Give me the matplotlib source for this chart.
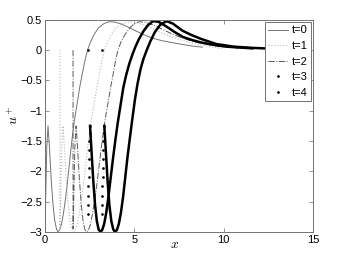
import matplotlib
matplotlib.use('Agg')
import matplotlib.pyplot as plt

plt.rcParams['font.family'] = ['Liberation Sans', 'DejaVu Sans']
plt.rcParams['mathtext.fontset'] = 'cm'

# t = 0
x0 = [0.0, 0.0, 0.05, 0.1, 0.17, 0.25, 0.35, 0.45, 0.55, 0.65, 0.73, 0.82, 0.92, 1.03, 1.15, 1.28,
      1.4, 1.52, 1.65, 1.8, 1.95, 2.1, 2.25, 2.4, 2.55, 2.75, 3.0, 3.3, 3.6, 3.9, 4.2, 4.6, 5.0, 5.5,
      6.0, 6.5, 7.0, 7.6, 8.2, 8.8]
u0 = [0.0, -2.95, -2.3, -1.6, -1.25, -1.6, -2.15, -2.55, -2.82, -2.96, -3.0, -2.97, -2.88, -2.7,
      -2.45, -2.12, -1.78, -1.45, -1.15, -0.88, -0.6, -0.37, -0.15, 0.02, 0.14, 0.26, 0.37, 0.44, 0.47,
      0.465, 0.44, 0.39, 0.33, 0.26, 0.2, 0.16, 0.13, 0.1, 0.07, 0.05]

# t = 1
x1 = [0.84, 0.84, 0.89, 0.94, 1.01, 1.09, 1.19, 1.3, 1.4, 1.5, 1.6, 1.7, 1.8, 1.92, 2.05, 2.19,
      2.32, 2.45, 2.59, 2.75, 2.91, 3.06, 3.2, 3.35, 3.5, 3.72, 3.98, 4.35, 4.75, 5.1, 5.5, 6.0, 6.5,
      7.0, 7.6, 8.2, 8.8, 9.4, 9.9]
u1 = [0.0, -2.95, -2.3, -1.6, -1.25, -1.6, -2.15, -2.55, -2.82, -2.96, -3.0, -2.97, -2.88, -2.7,
      -2.45, -2.12, -1.78, -1.45, -1.15, -0.88, -0.6, -0.37, -0.15, 0.02, 0.14, 0.26, 0.37, 0.44, 0.47,
      0.46, 0.42, 0.36, 0.29, 0.23, 0.17, 0.12, 0.08, 0.05, 0.03]

# t = 2
x2 = [1.57, 1.57, 1.62, 1.67, 1.74, 1.82, 1.93, 2.03, 2.13, 2.23, 2.33, 2.43, 2.54, 2.66, 2.8, 2.94,
      3.08, 3.22, 3.36, 3.52, 3.68, 3.83, 3.96, 4.1, 4.26, 4.48, 4.75, 5.0, 5.3, 5.65, 6.1, 6.6, 7.1,
      7.6, 8.2, 8.8, 9.4, 10.1, 10.8]
u2 = [0.0, -2.95, -2.3, -1.6, -1.25, -1.6, -2.15, -2.55, -2.82, -2.96, -3.0, -2.97, -2.88, -2.7,
      -2.45, -2.12, -1.78, -1.45, -1.15, -0.88, -0.6, -0.37, -0.15, 0.02, 0.14, 0.26, 0.37, 0.44, 0.47,
      0.46, 0.41, 0.34, 0.27, 0.21, 0.15, 0.11, 0.08, 0.05, 0.03]

# t = 3  (first 12 points: sparse dots of the steep spike)
x3 = [2.39, 2.4, 2.41, 2.42, 2.43, 2.44, 2.45, 2.46, 2.47, 2.48, 2.5, 2.52, 2.6, 2.7, 2.8, 2.9, 3.0,
      3.1, 3.2, 3.31, 3.43, 3.55, 3.67, 3.8, 3.93, 4.07, 4.22, 4.38, 4.55, 4.72, 4.88, 5.05, 5.25, 5.5,
      5.75, 6.04, 6.35, 6.8, 7.2, 7.7, 8.2, 8.7, 9.2, 9.6, 10.1, 10.6, 11.1, 11.6]
u3 = [0.0, -2.7, -2.55, -2.4, -2.25, -2.1, -1.95, -1.8, -1.65, -1.5, -1.37, -1.25, -1.65, -2.15,
      -2.55, -2.82, -2.96, -3.0, -2.97, -2.87, -2.68, -2.42, -2.12, -1.8, -1.5, -1.2, -0.92, -0.62,
      -0.4, -0.22, -0.08, 0.05, 0.18, 0.31, 0.41, 0.48, 0.47, 0.39, 0.31, 0.22, 0.17, 0.13, 0.1, 0.08,
      0.06, 0.05, 0.04, 0.03]

# t = 4
x4 = [3.17, 3.18, 3.19, 3.2, 3.21, 3.22, 3.23, 3.24, 3.25, 3.27, 3.29, 3.32, 3.4, 3.5, 3.6, 3.71,
      3.82, 3.92, 4.02, 4.13, 4.25, 4.37, 4.49, 4.61, 4.74, 4.88, 5.03, 5.18, 5.34, 5.5, 5.69, 5.9,
      6.15, 6.45, 6.8, 7.15, 7.7, 8.2, 8.7, 9.2, 9.6, 10.1, 10.5, 11.0, 11.5, 12.25]
u4 = [0.0, -2.7, -2.55, -2.4, -2.25, -2.1, -1.95, -1.8, -1.65, -1.5, -1.37, -1.25, -1.65, -2.15,
      -2.55, -2.82, -2.96, -3.0, -2.97, -2.87, -2.68, -2.42, -2.1, -1.78, -1.47, -1.15, -0.82, -0.55,
      -0.32, -0.15, 0.0, 0.15, 0.3, 0.42, 0.48, 0.44, 0.32, 0.25, 0.19, 0.14, 0.1, 0.08, 0.06, 0.05,
      0.04, 0.03]

labels = ['t=0', 't=1', 't=2', 't=3', 't=4']

fig = plt.figure(figsize=(3.46, 2.62), dpi=100)
ax = fig.add_axes([0.130, 0.115, 0.775, 0.809])

ax.plot(x0, u0, color='0.45', lw=0.7, label=labels[0])
ax.plot(x1, u1, color='0.72', lw=0.8, ls=':', label=labels[1])
ax.plot(x2, u2, color='0.35', lw=0.7, ls='-.', label=labels[2])

# dense dot curves: steep spike shows single dots, the rest looks like a thick line
ax.plot(x3[11:], u3[11:], color='k', lw=1.8)
ax.plot(x3[:12], u3[:12], ls='none', marker='.', ms=1.8, color='k', label=labels[3])
ax.plot(x4[11:], u4[11:], color='k', lw=1.8)
ax.plot(x4[:12], u4[:12], ls='none', marker='.', ms=1.8, color='k', label=labels[4])

ax.set_xlim(0, 15)
ax.set_ylim(-3, 0.5)
ax.set_xticks([0, 5, 10, 15])
ax.set_yticks([-3, -2.5, -2, -1.5, -1, -0.5, 0, 0.5])
ax.set_yticklabels(['\u22123', '\u22122.5', '\u22122', '\u22121.5', '\u22121', '\u22120.5', '0', '0.5'])
ax.tick_params(direction='in', length=3, width=0.5, top=True, right=True,
               labelsize=8, pad=2, color='0.4')
for s in ax.spines.values():
    s.set_color('0.45')
    s.set_linewidth(0.7)

ax.set_xlabel('$x$', fontsize=10)
ax.xaxis.set_label_coords(0.485, -0.025)
ax.set_ylabel('$u^+$', fontsize=10)
ax.yaxis.set_label_coords(-0.09, 0.55)

leg = ax.legend(loc='upper right', fontsize=8, handlelength=1.8, handletextpad=0.3,
                borderpad=0.3, labelspacing=0.5, borderaxespad=0.2, fancybox=False,
                framealpha=1, edgecolor='0.45', numpoints=1)
leg.get_frame().set_linewidth(0.7)

fig.savefig('out.png', dpi=100)
